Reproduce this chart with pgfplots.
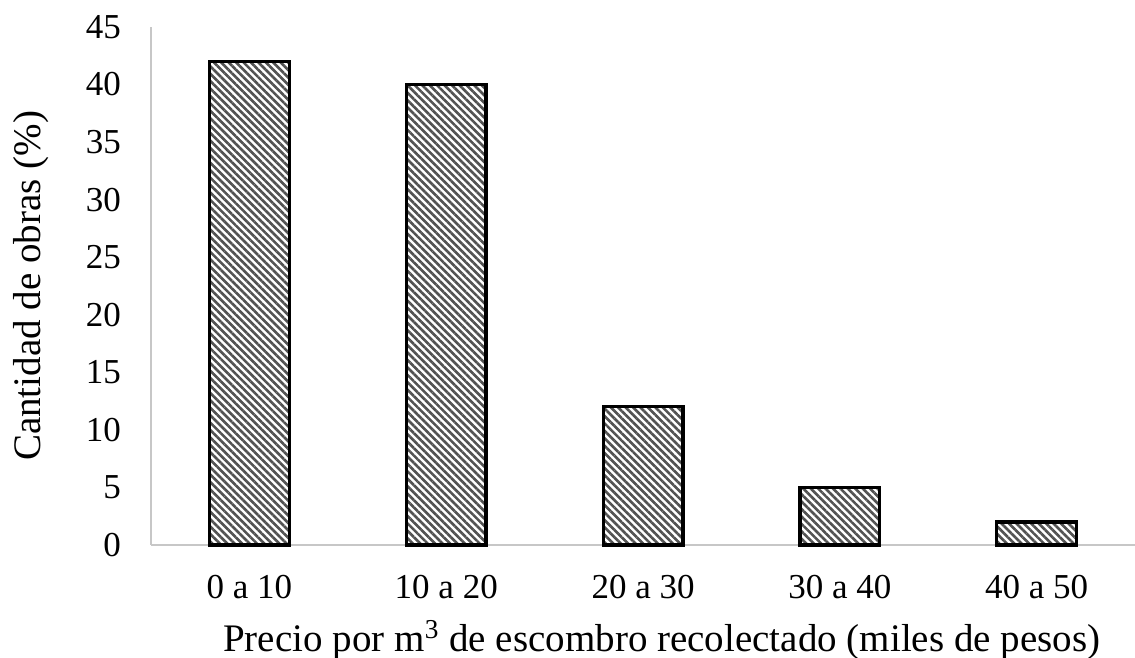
\documentclass[border=0pt]{standalone}
\usepackage{pgfplots}
\pgfplotsset{compat=1.18}
\usepackage{fontspec}
\setmainfont{Liberation Serif}
\usetikzlibrary{patterns.meta}
\begin{document}
\begin{tikzpicture}
\begin{axis}[
  scale only axis,
  width=393.6pt, height=207.2pt,
  xmin=-0.5, xmax=4.5,
  ymin=0, ymax=45,
  ytick={0,5,...,45},
  xtick={0,1,2,3,4},
  xticklabels={0 a 10,10 a 20,20 a 30,30 a 40,40 a 50},
  axis lines*=left,
  axis line style={draw=black!22, line width=1pt, -},
  major tick length=0pt,
  tick label style={font=\fontsize{14}{17}\selectfont},
  /pgf/number format/assume math mode=true,
  yticklabel style={xshift=-8.5pt},
  xticklabel style={yshift=-8.5pt},
  xlabel={Precio por m\textsuperscript{3} de escombro recolectado (miles de pesos)},
  ylabel={Cantidad de obras (\%)},
  label style={font=\fontsize{15.6}{18}\selectfont},
  xlabel style={yshift=-2pt, xshift=7.5pt},
  ylabel style={yshift=8pt},
  clip=false,
  ybar, bar width=0.405,
]
\addplot[draw=black, line width=1.3pt,
  pattern={Lines[angle=-45, distance=2.1pt, line width=1.05pt]},
  pattern color=black!68]
  coordinates {(0,42) (1,40) (2,12) (3,5) (4,2)};
\coordinate (bl) at (rel axis cs:-0.1535,-0.218);
\coordinate (tr) at (rel axis cs:1,1.052);
\end{axis}
\pgfresetboundingbox
\useasboundingbox (bl) rectangle (tr);
\end{tikzpicture}
\end{document}
